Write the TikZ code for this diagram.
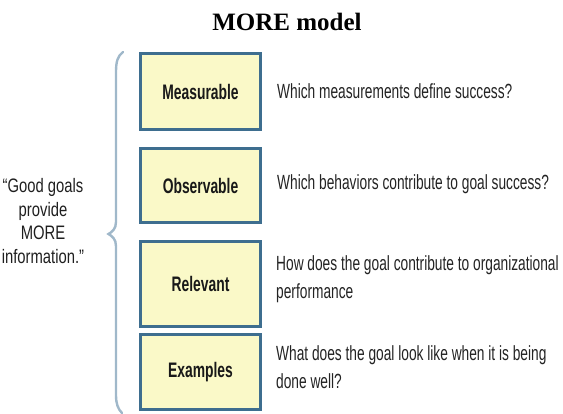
\documentclass[tikz,border=0pt]{standalone}
\usepackage{fontspec}
\setmainfont{Liberation Serif}
\newfontfamily\termfont[FakeStretch=0.66]{Liberation Sans}
\newfontfamily\questfont[FakeStretch=0.67]{Liberation Sans}
\newfontfamily\quotesans[FakeStretch=0.76]{Liberation Sans}
\definecolor{boxfill}{RGB}{250,249,200}
\definecolor{boxline}{RGB}{62,110,143}
\definecolor{bracecol}{RGB}{160,184,202}
\definecolor{bodytext}{RGB}{35,35,35}
\begin{document}
\begin{tikzpicture}[x=1pt,y=-1pt,
  termbox/.style={draw=boxline, line width=2.6pt, fill=boxfill, inner sep=0pt,
    minimum width=120.5pt, font=\termfont\bfseries\fontsize{21}{21}\selectfont, text=black!90},
  question/.style={anchor=base west, inner sep=0pt, align=left, text=bodytext,
    font=\questfont\fontsize{20.5}{28}\selectfont},
  quote/.style={inner sep=0pt, align=center, text=black!88,
    font=\quotesans\fontsize{19.5}{23.5}\selectfont}]
\useasboundingbox (0,0) rectangle (563,413);

% title
\node[anchor=base, inner sep=0pt, font=\bfseries\fontsize{25}{25}\selectfont] (title) at (287,30) {MORE model};

% the four MORE terms
\node[termbox, minimum height=76.5pt] (m) at (200.5,91.5) {Measurable};
\node[termbox, minimum height=74.5pt] (o) at (200.5,185.5) {Observable};
\node[termbox, minimum height=85.5pt] (r) at (200.5,284) {Relevant};
\node[termbox, minimum height=75.5pt] (e) at (200.5,372) {Examples};

% guiding questions (two-line nodes sit on the baseline of their last line)
\node[question] (qm) at (277,98) {Which measurements define success?};
\node[question] (qo) at (277,189) {Which behaviors contribute to goal success?};
\node[question] (qr) at (276,298) {How does the goal contribute to organizational\\performance};
\node[question] (qe) at (276,388) {What does the goal look like when it is being\\done well?};

% quotation on the left
\node[quote] (q) at (43,221) {“Good goals\\provide\\MORE\\information.”};

% curly brace grouping the terms
\draw[bracecol, line width=2.4pt, line cap=round]
  (123,52) .. controls (117.5,56) and (116,62) .. (116,72)
  -- (116,222) .. controls (116,229) and (112,232) .. (108.5,234)
  .. controls (112,236) and (116,239) .. (116,246)
  -- (116,395) .. controls (116,404) and (118,409) .. (122,413);
\end{tikzpicture}
\end{document}
